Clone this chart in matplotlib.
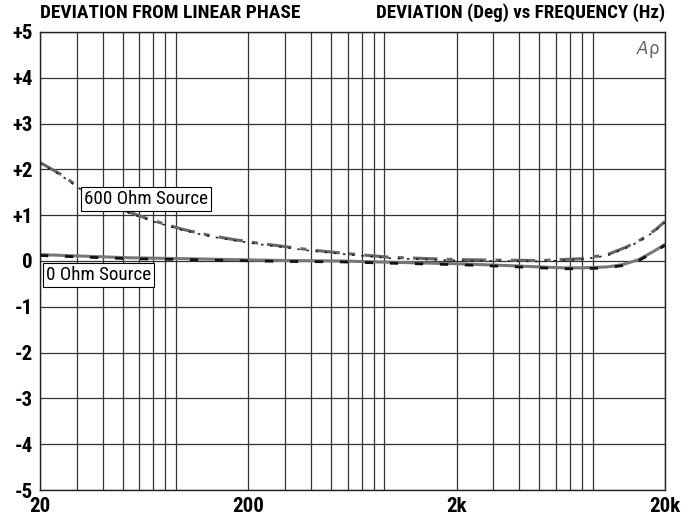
import numpy as np
import matplotlib.pyplot as plt
from matplotlib import font_manager
from matplotlib.ticker import FixedLocator, LogLocator, NullFormatter

# pick the narrowest sans family that is available
names = {f.name for f in font_manager.fontManager.ttflist}
condensed = [f for f in font_manager.fontManager.ttflist
             if f.name == 'DejaVu Sans' and 'condensed' in str(f.stretch)]
family = 'DejaVu Sans'
stretch = 'normal'
for cand in ['Liberation Sans Narrow', 'Roboto Condensed', 'Open Sans Condensed',
             'Noto Sans Condensed', 'DejaVu Sans Condensed']:
    if cand in names:
        family = cand
        break
else:
    if condensed:
        stretch = 'condensed'
plt.rcParams['font.family'] = [family, 'DejaVu Sans']
plt.rcParams['font.stretch'] = stretch

# frequency (Hz) and phase deviation (deg)
freq_600 = [20, 25, 31, 40, 54, 70, 97, 130, 169, 230, 294, 400, 600, 962,
            1500, 2000, 3000, 5040, 7940, 10600, 13000, 15400, 18000, 20000]
dev_600 = [2.15, 1.9, 1.6, 1.3, 1.06, 0.88, 0.69, 0.56, 0.47, 0.38, 0.32, 0.24,
           0.16, 0.08, 0.05, 0.03, 0.02, 0.01, 0.05, 0.14, 0.3, 0.47, 0.68, 0.86]

freq_0 = [20, 30, 54, 100, 170, 300, 555, 1000, 2000, 3500, 5040, 6500, 8000,
          10600, 12500, 15000, 17500, 20000]
dev_0 = [0.14, 0.11, 0.07, 0.05, 0.03, 0.01, 0.0, -0.03, -0.06, -0.1, -0.13,
         -0.15, -0.15, -0.13, -0.08, 0.03, 0.2, 0.36]

y_ticks = [5, 4, 3, 2, 1, 0, -1, -2, -3, -4, -5]
y_labels = ['+5', '+4', '+3', '+2', '+1', '0', '-1', '-2', '-3', '-4', '-5']
x_ticks = [20, 200, 2000, 20000]
x_labels = ['20', '200', '2k', '20k']

fig = plt.figure(figsize=(6.89, 5.15), dpi=100)
renderer = fig.canvas.get_renderer()


def fit(txt, target_px, max_size=14.5):
    # shrink a text until it is about as wide as in the reference
    txt.set_fontsize(max_size)
    w = txt.get_window_extent(renderer).width
    if w > target_px:
        txt.set_fontsize(max_size * target_px / w)
    return txt


ax = fig.add_axes([0.058, 0.0485, 0.907, 0.8895])
ax.set_xscale('log')
ax.set_xlim(20, 20000)
ax.set_ylim(-5, 5)

ax.xaxis.set_major_locator(FixedLocator(x_ticks))
ax.set_xticklabels(x_labels)
ax.xaxis.set_minor_locator(LogLocator(base=10, subs=np.arange(2, 10)))
ax.xaxis.set_minor_formatter(NullFormatter())
ax.set_yticks(y_ticks)
ax.set_yticklabels(y_labels)

ax.grid(True, which='both', axis='x', color='#333333', linewidth=0.9)
ax.grid(True, which='major', axis='y', color='#333333', linewidth=0.9)
ax.tick_params(which='both', length=0, labelsize=14, pad=5)
for s in ax.spines.values():
    s.set_color('#222222')
    s.set_linewidth(1.0)

# 600 Ohm: two channels
ax.plot(freq_600, dev_600, color='#666666', linewidth=2.2, linestyle=(0, (8, 3, 2, 3)))
ax.plot(freq_600, [v - 0.02 for v in dev_600], color='#222222', linewidth=1.2,
        linestyle=(0, (1.5, 4)))
# 0 Ohm: two channels
ax.plot(freq_0, dev_0, color='#777777', linewidth=2.2)
ax.plot(freq_0, [v - 0.02 for v in dev_0], color='#111111', linewidth=2.0,
        linestyle=(0, (3, 6)))

box = dict(boxstyle='square,pad=0.15', facecolor='white', edgecolor='black', linewidth=0.8)
t1 = ax.text(32.6, 1.35, '600 Ohm Source', va='center', ha='left', bbox=box)
t2 = ax.text(21.4, -0.31, '0 Ohm Source', va='center', ha='left', bbox=box)
fit(t1, 124, 15)
fit(t2, 105, 15)

ax.text(0.992, 0.985, r'$\mathit{A}$ρ', transform=ax.transAxes, ha='right', va='top',
        fontsize=12, color='#666666', family=['DejaVu Sans'])

h1 = fig.text(0.058, 0.957, 'DEVIATION FROM LINEAR PHASE', fontweight='bold',
              ha='left', va='bottom')
h2 = fig.text(0.965, 0.957, 'DEVIATION (Deg) vs FREQUENCY (Hz)', fontweight='bold',
              ha='right', va='bottom')
fit(h1, 262, 15)
fit(h2, 290, 15)

fig.canvas.draw()
for lab in ax.get_yticklabels():
    lab.set_fontweight('bold')
    fit(lab, 21, 15)
ysize = ax.get_yticklabels()[0].get_fontsize()
for lab in ax.get_xticklabels():
    lab.set_fontweight('bold')
    lab.set_fontsize(ysize)

fig.savefig('out.png', dpi=100)
